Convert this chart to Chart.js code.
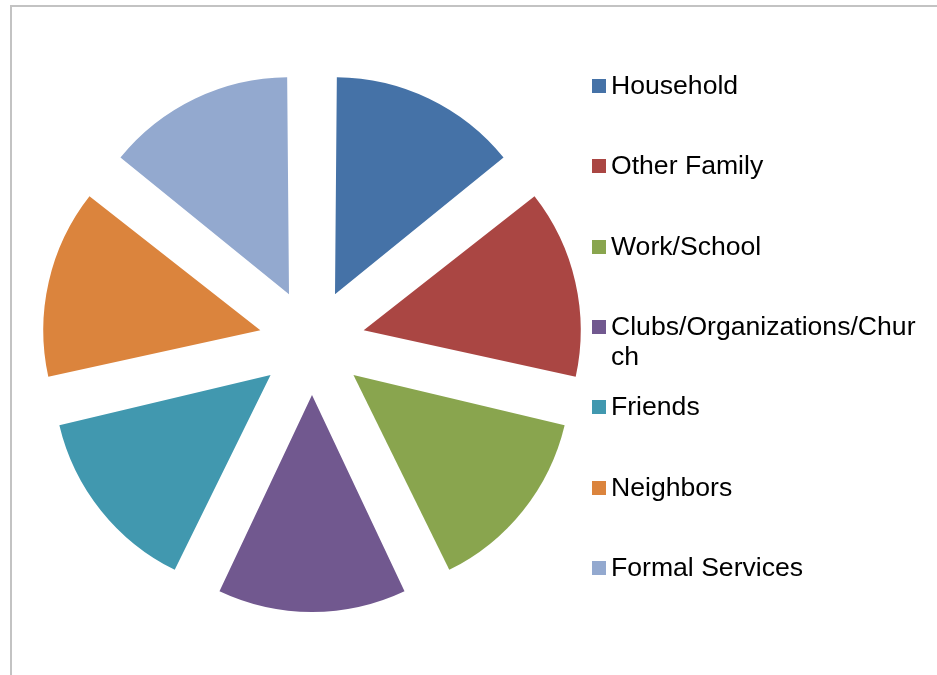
<!DOCTYPE html>
<html>
<head>
<meta charset="utf-8">
<script src="https://cdn.jsdelivr.net/npm/chart.js@4"></script>
<style>
  html, body { margin: 0; padding: 0; background: #fff; overflow: hidden; }
  #wrap { position: relative; width: 937px; height: 675px; }
  #frame { position: absolute; left: 10px; top: 5px; width: 1000px; height: 1000px;
           border-left: 2px solid #c3c3c3; border-top: 2px solid #c3c3c3; }
  #pie { position: absolute; left: 0; top: 0; }
  #legend { position: absolute; left: 0; top: 0; font-family: "Liberation Sans", Arial, sans-serif;
            font-size: 26.6px; color: #000; }
  .item { position: absolute; left: 592px; }
  .box { position: absolute; left: 0; top: 9px; width: 14px; height: 14px; }
  .txt { position: absolute; left: 19px; top: 0; width: 312px; line-height: 30.5px;
         word-break: break-all; white-space: normal; }
</style>
</head>
<body>
<div id="wrap">
  <div id="frame"></div>
  <canvas id="pie" width="937" height="675"></canvas>
  <div id="legend"></div>
</div>
<script>
// chart data
const categories = ['Household', 'Other Family', 'Work/School', 'Clubs/Organizations/Church',
                    'Friends', 'Neighbors', 'Formal Services'];
const values = [1, 1, 1, 1, 1, 1, 1];
const colors = ['#4572A7', '#AA4643', '#89A54E', '#71588F', '#4198AF', '#DB843D', '#93A9CF'];

const ctx = document.getElementById('pie').getContext('2d');

// Chart.js moves each arc by offset/4 and grows it a little, so these give
// ~53px explosion and ~217px radius on screen
const chart = new Chart(ctx, {
    type: 'pie',
    data: {
        labels: categories,
        datasets: [{
            data: values,
            backgroundColor: colors,
            borderWidth: 0,
            offset: 212,
            hoverOffset: 0,
            clip: false
        }]
    },
    options: {
        responsive: false,
        animation: false,
        radius: 205.5,
        layout: { padding: { left: 0, right: 313, top: 9, bottom: 0 } },
        plugins: {
            legend: { display: false },
            tooltip: { enabled: false }
        }
    }
});

// legend on the right, built from the chart's own labels
const legendEl = document.getElementById('legend');
chart.data.labels.forEach((label, i) => {
    const item = document.createElement('div');
    item.className = 'item';
    item.style.top = (70 + 80.3 * i) + 'px';
    const box = document.createElement('div');
    box.className = 'box';
    box.style.background = chart.data.datasets[0].backgroundColor[i];
    const txt = document.createElement('div');
    txt.className = 'txt';
    txt.textContent = label;
    item.appendChild(box);
    item.appendChild(txt);
    legendEl.appendChild(item);
});
</script>
</body>
</html>
